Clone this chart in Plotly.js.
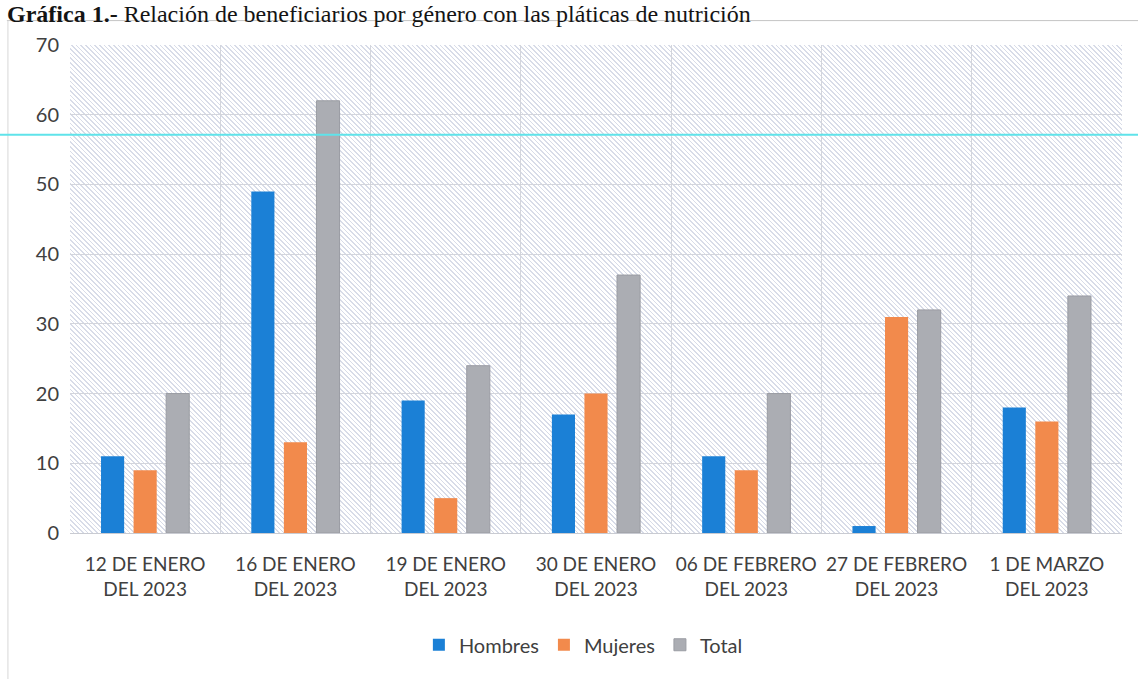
<!DOCTYPE html>
<html>
<head>
<meta charset="utf-8">
<script src="https://cdn.plot.ly/plotly-3.0.1.min.js"></script>
<style>
  html, body { margin:0; padding:0; background:#ffffff; }
  #wrap { position:relative; width:1138px; height:679px; overflow:hidden; }
  #hatch { position:absolute; left:70px; top:45px; width:1052px; height:488px;
    background: repeating-linear-gradient(45deg, #ffffff 0px, #ffffff 2.3px, #d8dce8 2.3px, #d8dce8 3.3px);
    z-index:0; }
  #chart { position:absolute; left:0; top:0; width:1138px; height:679px; z-index:1; }
</style>
</head>
<body>
<div id="wrap">
  <div id="hatch"></div>
  <div id="chart"></div>
</div>
<script>
const categories = [
  "12 DE ENERO<br>DEL 2023",
  "16 DE ENERO<br>DEL 2023",
  "19 DE ENERO<br>DEL 2023",
  "30 DE ENERO<br>DEL 2023",
  "06 DE FEBRERO<br>DEL 2023",
  "27 DE FEBRERO<br>DEL 2023",
  "1 DE MARZO<br>DEL 2023"
];
const hombres = [11, 49, 19, 17, 11, 1, 18];
const mujeres = [9, 13, 5, 20, 9, 31, 16];
const total   = [20, 62, 24, 37, 20, 32, 34];
const yTicks  = [0, 10, 20, 30, 40, 50, 60, 70];

const font = "Lato, 'Open Sans', 'Noto Sans', sans-serif";

const traces = [
  {type:'bar', name:'Hombres', x:categories, y:hombres, marker:{color:'#1b80d6'}},
  {type:'bar', name:'Mujeres', x:categories, y:mujeres, marker:{color:'#f28a4c'}},
  {type:'bar', name:'Total',   x:categories, y:total,   marker:{color:'#abadb3', line:{color:'#9a9ca3', width:1}}}
];

const layout = {
  width:1138, height:679,
  margin:{l:70, r:16, t:45, b:146},
  paper_bgcolor:'rgba(0,0,0,0)',
  plot_bgcolor:'rgba(0,0,0,0)',
  barmode:'group',
  bargap:0.35,
  bargroupgap:0.29,
  showlegend:true,
  legend:{orientation:'h', x:0.488, xanchor:'center', y:-0.229, yanchor:'middle',
          font:{family:font, size:20, color:'#404040'}, itemwidth:30, tracegroupgap:0},
  xaxis:{type:'category', tickson:'boundaries', showgrid:true, gridcolor:'#d3d5dc', gridwidth:1,
         ticks:'', showline:true, linecolor:'#c9cbd2', linewidth:1, ticklabelstandoff:14, tickangle:0,
         tickfont:{family:font, size:19, color:'#404040'}, automargin:false},
  yaxis:{range:[0,70], tickvals:yTicks, showgrid:true, gridcolor:'#d3d5dc', gridwidth:1,
         zeroline:false, showline:false, ticks:'', ticklabelstandoff:10,
         tickfont:{family:font, size:20, color:'#404040'}, automargin:false},
  annotations:[
    {xref:'paper', yref:'paper', x:-0.062, y:1.094, xanchor:'left', yanchor:'top', showarrow:false,
     text:'<b>Gráfica 1.-</b> Relación de beneficiarios por género con las pláticas de nutrición',
     font:{family:"'Liberation Serif', 'DejaVu Serif', serif", size:24, color:'#141414'}}
  ],
  shapes:[
    {type:'line', xref:'paper', yref:'paper', x0:-0.06, x1:1.02, y0:1.05, y1:1.05, line:{color:'#c4c4c4', width:1}},
    {type:'line', xref:'paper', yref:'paper', x0:-0.059, x1:-0.059, y0:1.05, y1:-0.3, line:{color:'#d8d8d8', width:1}},
    {type:'line', xref:'paper', yref:'paper', x0:-0.07, x1:1.02, y0:0.816, y1:0.816, line:{color:'#5fe3ea', width:2}}
  ]
};

Plotly.newPlot('chart', traces, layout, {displayModeBar:false, staticPlot:true});
</script>
</body>
</html>
